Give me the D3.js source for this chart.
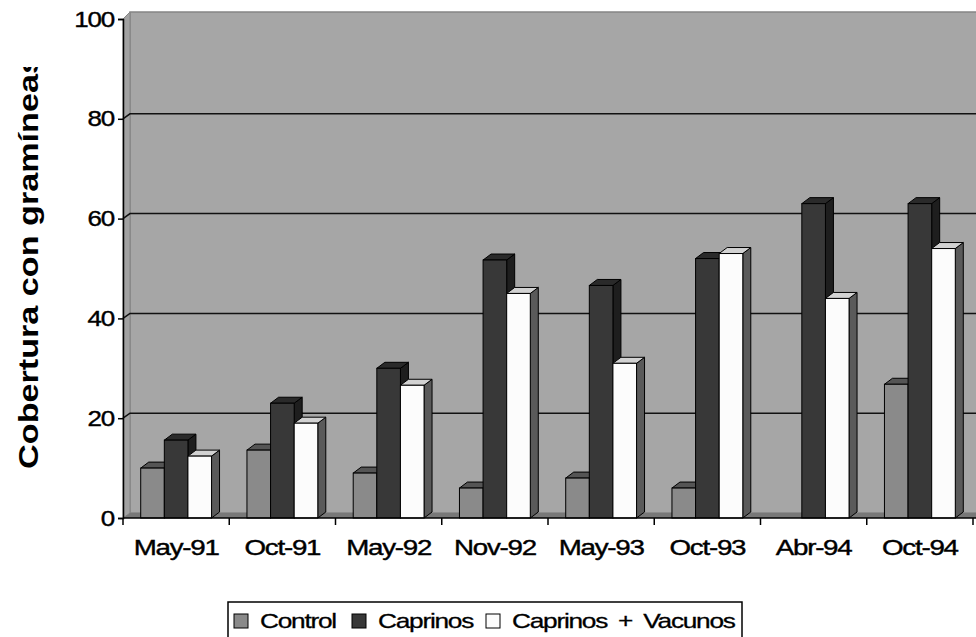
<!DOCTYPE html>
<html>
<head>
<meta charset="utf-8">
<script src="https://cdn.jsdelivr.net/npm/d3@7"></script>
<style>
  body { margin: 0; background: #fff; }
  text { font-family: "Liberation Sans", Arial, sans-serif; }
</style>
</head>
<body>
<svg id="chart" width="976" height="637"></svg>
<script>
// datos
const fechas = ["May-91", "Oct-91", "May-92", "Nov-92", "May-93", "Oct-93", "Abr-94", "Oct-94"];
const series = ["Control", "Caprinos", "Caprinos + Vacunos"];
const control = [10, 13.6, 9, 6, 8, 6, 0, 26.8];
const caprinos = [15.6, 23, 30, 51.7, 46.6, 52, 63, 63];
const vacunos = [12.4, 19, 26.6, 45, 31, 53, 44, 54];
const yTicks = [0, 20, 40, 60, 80, 100];

const valores = [control, caprinos, vacunos];

// colores de cada serie: frente, techo, lado
const colores = [
  { front: "#8a8a8a", top: "#555555", side: "#6a6a6a" },
  { front: "#383838", top: "#2a2a2a", side: "#1e1e1e" },
  { front: "#fcfcfc", top: "#d2d2d2", side: "#5a5a5a" }
];

const svg = d3.select("#chart");
const plotLeft = 123, plotRight = 973, plotBottom = 518, plotTop = 19;
const wallDx = 7, wallDy = 5;
const barDx = 8, barDy = 6;

const x0 = d3.scaleBand().domain(fechas).range([plotLeft, plotRight]);
const bw = x0.bandwidth();
const x1 = d3.scaleBand().domain(series).range([bw / 6, bw * 5 / 6]);
const y = d3.scaleLinear().domain([0, 100]).range([plotBottom, plotTop]);

// estira el texto en horizontal como en la imagen
function stretch(sel, k) {
  sel.each(function () {
    const len = this.getComputedTextLength();
    d3.select(this).attr("textLength", len * k).attr("lengthAdjust", "spacingAndGlyphs");
  });
}

// pared del fondo
svg.append("rect")
  .attr("x", plotLeft + wallDx).attr("y", y(100) - 7)
  .attr("width", 976 - plotLeft - wallDx + 5).attr("height", plotBottom - wallDy - (y(100) - 7))
  .attr("fill", "#a6a6a6").attr("stroke", "#858585").attr("stroke-width", 1.5);

// pared lateral
svg.append("polygon")
  .attr("points", [[plotLeft, y(100)], [plotLeft + wallDx, y(100) - 7], [plotLeft + wallDx, plotBottom - wallDy], [plotLeft, plotBottom]].join(" "))
  .attr("fill", "#a2a2a2").attr("stroke", "#858585").attr("stroke-width", 1);

// suelo
svg.append("polygon")
  .attr("points", [[plotLeft, plotBottom], [plotLeft + wallDx, plotBottom - wallDy], [980, plotBottom - wallDy], [980, plotBottom]].join(" "))
  .attr("fill", "#787878");

// líneas de división
svg.selectAll(".grid")
  .data(yTicks.filter(d => d > 0 && d < 100))
  .enter().append("polyline")
  .attr("points", d => [[plotLeft, y(d)], [plotLeft + wallDx, y(d) - wallDy], [980, y(d) - wallDy]].join(" "))
  .attr("fill", "none").attr("stroke", "#111").attr("stroke-width", 1.5);

// barras
const grupos = svg.selectAll(".grupo")
  .data(fechas)
  .enter().append("g")
  .attr("transform", d => `translate(${x0(d)},0)`);

grupos.each(function (fecha, i) {
  const g = d3.select(this);
  series.forEach((s, j) => {
    const v = valores[j][i];
    if (!v) return;
    const xa = x1(s), xb = xa + x1.bandwidth();
    const yt = y(v);
    const c = colores[j];
    g.append("polygon")
      .attr("points", [[xb, plotBottom], [xb + barDx, plotBottom - barDy], [xb + barDx, yt - barDy], [xb, yt]].join(" "))
      .attr("fill", c.side).attr("stroke", "#000").attr("stroke-width", 1).attr("stroke-linejoin", "round");
    g.append("polygon")
      .attr("points", [[xa, yt], [xa + barDx, yt - barDy], [xb + barDx, yt - barDy], [xb, yt]].join(" "))
      .attr("fill", c.top).attr("stroke", "#000").attr("stroke-width", 1).attr("stroke-linejoin", "round");
    g.append("rect")
      .attr("x", xa).attr("y", yt)
      .attr("width", x1.bandwidth()).attr("height", plotBottom - yt)
      .attr("fill", c.front).attr("stroke", "#000").attr("stroke-width", 1);
  });
});

// eje Y
const yAxis = svg.append("g")
  .attr("transform", `translate(${plotLeft},0)`)
  .call(d3.axisLeft(y).tickValues(yTicks).tickSize(5).tickPadding(4));
yAxis.select(".domain").attr("stroke", "#000").attr("stroke-width", 1.5);
yAxis.selectAll(".tick line").attr("stroke", "#000").attr("stroke-width", 1.5);
yAxis.selectAll("text").attr("font-size", 22).attr("fill", "#000").attr("letter-spacing", -1)
  .attr("stroke", "#000").attr("stroke-width", 0.4)
  .attr("font-family", "Liberation Sans, Arial, sans-serif").call(stretch, 1.18);

// eje X
const xAxis = svg.append("g")
  .attr("transform", `translate(0,${plotBottom})`)
  .call(d3.axisBottom(x0).tickSize(0).tickPadding(21));
xAxis.select(".domain").remove();
xAxis.append("line").attr("x1", plotLeft).attr("x2", 980).attr("stroke", "#000").attr("stroke-width", 1.5);
xAxis.selectAll(".sep")
  .data(fechas.concat(["fin"]))
  .enter().append("line")
  .attr("x1", (d, i) => plotLeft + i * bw).attr("x2", (d, i) => plotLeft + i * bw)
  .attr("y1", 0).attr("y2", 7)
  .attr("stroke", "#000").attr("stroke-width", 1.5);
xAxis.selectAll(".tick text").attr("font-size", 22).attr("fill", "#000").attr("letter-spacing", -1)
  .attr("stroke", "#000").attr("stroke-width", 0.4)
  .attr("font-family", "Liberation Sans, Arial, sans-serif").call(stretch, 1.26);

// título del eje Y (recortado arriba como en el original)
svg.append("clipPath").attr("id", "clipTitulo")
  .append("rect").attr("x", 0).attr("y", 67).attr("width", 80).attr("height", 500);
svg.append("g")
  .attr("clip-path", "url(#clipTitulo)")
  .append("text")
  .attr("transform", "translate(38,262) rotate(-90)")
  .attr("text-anchor", "middle")
  .attr("font-size", 28).attr("font-weight", "bold")
  .text("Cobertura con gramíneas")
  .call(stretch, 1.22);

// leyenda
const leyenda = svg.append("g");
leyenda.append("rect")
  .attr("x", 228).attr("y", 602).attr("width", 514).attr("height", 45)
  .attr("fill", "#fff").attr("stroke", "#000").attr("stroke-width", 1.5);
const legX = [234, 352, 486];
series.forEach((s, j) => {
  leyenda.append("rect")
    .attr("x", legX[j]).attr("y", 614).attr("width", 14).attr("height", 14)
    .attr("fill", colores[j].front).attr("stroke", "#000").attr("stroke-width", 1);
  leyenda.append("text")
    .attr("x", legX[j] + 26).attr("y", 628)
    .attr("font-size", 21).attr("letter-spacing", -1).attr("word-spacing", 4)
    .attr("stroke", "#000").attr("stroke-width", 0.3)
    .text(s)
    .call(stretch, 1.25);
});
</script>
</body>
</html>
